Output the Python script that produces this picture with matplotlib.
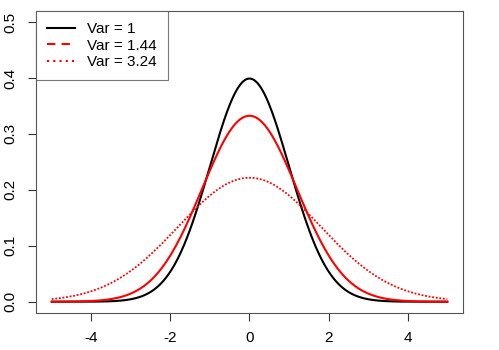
import numpy as np
import matplotlib.pyplot as plt
from matplotlib.lines import Line2D

plt.rcParams['font.family'] = ['Liberation Sans', 'DejaVu Sans']

# variances of the three normal curves (mean 0)
variances = [1, 1.44, 3.24]
labels = ['Var = 1', 'Var = 1.44', 'Var = 3.24']
colors = ['black', 'red', 'red']
plot_styles = ['-', '-', (0, (1, 1))]
legend_styles = ['-', (0, (4, 3)), (0, (1, 2))]

x_ticks = [-4, -2, 0, 2, 4]
y_ticks = [0.0, 0.1, 0.2, 0.3, 0.4, 0.5]

x = np.linspace(-5, 5, 400)

fig = plt.figure(figsize=(4.99, 3.5), dpi=100)
ax = fig.add_axes([0.072, 0.106, 0.856, 0.863])

for v, c, ls in zip(variances, colors, plot_styles):
    y = np.exp(-x**2 / (2 * v)) / np.sqrt(2 * np.pi * v)
    ax.plot(x, y, color=c, linestyle=ls, lw=1.5 if ls == '-' else 1.3)

ax.set_xlim(-5.4, 5.4)
ax.set_ylim(-0.02, 0.52)
ax.set_xticks(x_ticks)
ax.set_xticklabels([str(t) for t in x_ticks])
ax.set_yticks(y_ticks)
ax.set_yticklabels(['%.1f' % t for t in y_ticks], rotation=90, va='center')
ax.tick_params(axis='both', direction='out', length=6, width=0.8,
               labelsize=11, color='#333333')
ax.tick_params(axis='x', pad=7)
ax.tick_params(axis='y', pad=7)
for s in ax.spines.values():
    s.set_color('#555555')
    s.set_linewidth(0.8)

handles = [Line2D([], [], color=c, linestyle=ls, lw=1.5)
           for c, ls in zip(colors, legend_styles)]
leg = ax.legend(handles, labels, loc='upper left', bbox_to_anchor=(0, 1),
                fontsize=11, frameon=True, fancybox=False, borderaxespad=0,
                handlelength=1.8, handletextpad=0.8, labelspacing=0.15,
                borderpad=0.75)
leg.get_frame().set_edgecolor('#555555')
leg.get_frame().set_linewidth(0.8)

fig.savefig('out.png', dpi=100)
